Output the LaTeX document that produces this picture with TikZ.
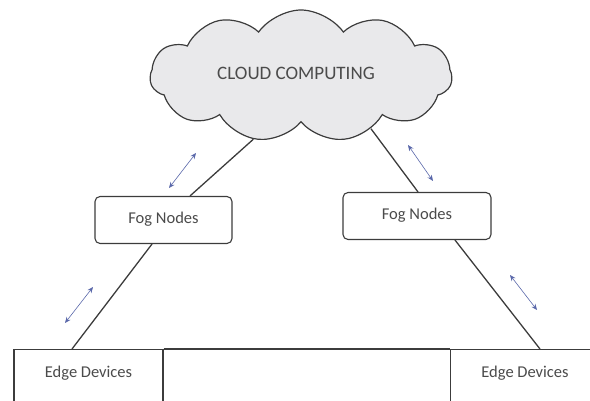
\documentclass[tikz,border=0pt]{standalone}
\usepackage{fontspec}
\setmainfont{Carlito}
\usepackage{xcolor}
\usepackage{tikz}
\usetikzlibrary{shapes.symbols, arrows.meta, positioning}
\definecolor{cloudgray}{RGB}{233, 233, 235}
\definecolor{linegray}{RGB}{60, 60, 60}
\definecolor{textgray}{RGB}{75, 75, 75}
\definecolor{flowblue}{RGB}{90, 104, 170}
\tikzset{
    cloudnode/.style = {draw=linegray, fill=cloudgray, cloud, cloud puffs=11, cloud puff arc=110,
      aspect=2.4, inner sep=0pt, minimum width=302pt, minimum height=132pt, line width=1.2pt,
      text=textgray, font=\fontsize{19}{22}\selectfont},
    roundnode/.style = {draw=linegray, fill=white, rectangle, rounded corners=5pt, line width=1.1pt,
      minimum width=137pt, minimum height=47pt, text=textgray, font=\fontsize{16.5}{20}\selectfont},
    edgenode/.style = {draw=linegray, fill=white, rectangle, line width=1.1pt, inner sep=0pt,
      minimum width=149pt, text height=28pt, text depth=32pt, text=textgray,
      font=\fontsize{16.5}{20}\selectfont},
    connect/.style = {linegray, line width=1.3pt},
    dataflow/.style = {flowblue, line width=0.6pt, {Stealth[length=6pt,width=5pt]}-{Stealth[length=6pt,width=5pt]}}
}

\begin{document}
\begin{tikzpicture}[x=1pt, y=-1pt]
    \useasboundingbox (0,0) rectangle (590,401);
    \clip (0,0) rectangle (590,401);

    \node [name=cloud, cloudnode] at (301,76) {\hspace*{-10pt}\raisebox{5pt}{CLOUD COMPUTING}};

    \node [name=fogL, roundnode] at (163.5,220) {\raisebox{4pt}{Fog Nodes}};
    \node [name=fogR, roundnode, minimum width=148pt] at (417,216) {\raisebox{4pt}{Fog Nodes}};

    \node [name=edgeL, edgenode, anchor=north] at (88.5,349) {Edge Devices};
    \node [name=edgeR, edgenode, anchor=north] at (525,349) {Edge Devices};

    % links between the layers
    \draw [connect] (cloud.233) -- ([xshift=26.5pt]fogL.north);
    \draw [connect] ([xshift=-11.5pt]fogL.south) -- ([xshift=-16.5pt]edgeL.north);
    \draw [connect] (cloud.323) -- ([xshift=1pt]fogR.north);
    \draw [connect] ([xshift=38pt]fogR.south) -- ([xshift=15pt]edgeR.north);
    \draw [connect] (edgeL.north east) -- (edgeR.north west);

    % data flow
    \coordinate (fl1) at (169,188);
    \coordinate (fl2) at (196,153);
    \coordinate (fl3) at (65,323);
    \coordinate (fl4) at (93,287);
    \coordinate (fr1) at (408,145);
    \coordinate (fr2) at (433,181);
    \coordinate (fr3) at (510,275);
    \coordinate (fr4) at (537,310);
    \draw [dataflow] (fl1) -- (fl2);
    \draw [dataflow] (fl3) -- (fl4);
    \draw [dataflow] (fr1) -- (fr2);
    \draw [dataflow] (fr3) -- (fr4);
\end{tikzpicture}
\end{document}
